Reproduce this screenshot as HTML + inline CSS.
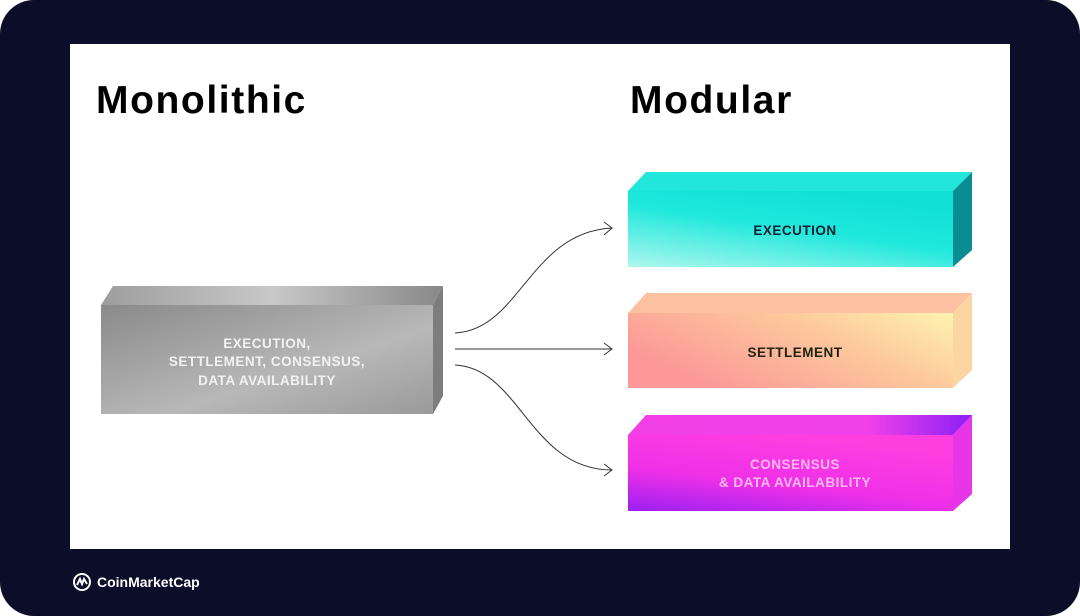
<!DOCTYPE html>
<html><head><style>
html,body{margin:0;padding:0;background:#fff}
.wrap{position:relative;width:1080px;height:616px;overflow:hidden;background:#fff;font-family:"Liberation Sans",sans-serif}
.bg{position:absolute;left:0;top:0;width:1080px;height:616px;background:#0b0d29;border-radius:34px}
.panel{position:absolute;left:70px;top:44px;width:940px;height:505px;background:#fff}
h1{position:absolute;margin:0;font-size:39px;font-weight:bold;color:#000;letter-spacing:1.6px}
.logo{position:absolute;left:72px;top:572px;color:#fff;font-weight:bold;font-size:14px;display:flex;align-items:center;gap:5px}
</style></head><body><div class="wrap">
<div class="bg"></div>
<div class="panel"></div>
<h1 style="left:96px;top:79px">Monolithic</h1>
<h1 style="left:630px;top:79px">Modular</h1>
<svg width="1080" height="616" style="position:absolute;left:0;top:0">
<defs>
<linearGradient id="gf" x1="0" y1="0" x2="1" y2="1"><stop offset="0" stop-color="#8a8a8a"/><stop offset="0.6" stop-color="#b8b8b8"/><stop offset="1" stop-color="#9a9a9a"/></linearGradient>
<linearGradient id="gt" x1="0" y1="0" x2="1" y2="0"><stop offset="0" stop-color="#9d9d9d"/><stop offset="0.5" stop-color="#c8c8c8"/><stop offset="1" stop-color="#888"/></linearGradient>
<linearGradient id="ef" x1="0" y1="1" x2="0.6" y2="0"><stop offset="0" stop-color="#aef7ee"/><stop offset="0.6" stop-color="#1fe8dc"/><stop offset="1" stop-color="#10e0d6"/></linearGradient>
<linearGradient id="sf" x1="0" y1="0.5" x2="1" y2="0"><stop offset="0" stop-color="#fc9898"/><stop offset="0.6" stop-color="#fdcb9c"/><stop offset="1" stop-color="#fff3b0"/></linearGradient>
<linearGradient id="cf" x1="0" y1="1" x2="0.5" y2="0"><stop offset="0" stop-color="#9b20f0"/><stop offset="0.45" stop-color="#ee30e8"/><stop offset="1" stop-color="#ff3ee0"/></linearGradient>
<linearGradient id="ct" x1="0" y1="0" x2="1" y2="0"><stop offset="0" stop-color="#f340e6"/><stop offset="0.7" stop-color="#f040ea"/><stop offset="1" stop-color="#8a20f5"/></linearGradient>
</defs>
<polygon points="101,305 113,286 443,286 433,305" fill="url(#gt)"/>
<polygon points="433,305 443,286 443,396 433,414" fill="#7d7d7d"/>
<rect x="101" y="305" width="332" height="109" fill="url(#gf)"/>
<g fill="#f2f2f2" font-weight="bold" font-size="13.5" text-anchor="middle" letter-spacing="0.5">
<text x="267" y="348">EXECUTION,</text><text x="267" y="366">SETTLEMENT, CONSENSUS,</text><text x="267" y="385">DATA AVAILABILITY</text></g>
<polygon points="628,191 646,172 972,172 953,191" fill="#22e6dc"/>
<polygon points="953,191 972,172 972,250 953,267" fill="#0a8d92"/>
<rect x="628" y="191" width="325" height="76" fill="url(#ef)"/>
<text x="795" y="235" text-anchor="middle" font-weight="bold" font-size="13.5" fill="#0d2030" letter-spacing="0.5">EXECUTION</text>
<polygon points="628,313 646,293 972,293 953,313" fill="#fdc0a0"/>
<polygon points="953,313 972,293 972,370 953,388" fill="#fbd6a0"/>
<rect x="628" y="313" width="325" height="75" fill="url(#sf)"/>
<text x="795" y="357" text-anchor="middle" font-weight="bold" font-size="13.5" fill="#221" letter-spacing="0.5">SETTLEMENT</text>
<polygon points="628,435 646,415 972,415 953,435" fill="url(#ct)"/>
<polygon points="953,435 972,415 972,494 953,511" fill="#e636e8"/>
<rect x="628" y="435" width="325" height="76" fill="url(#cf)"/>
<g fill="#ffb8f4" font-weight="bold" font-size="13.5" text-anchor="middle" letter-spacing="0.5"><text x="795" y="469">CONSENSUS</text><text x="795" y="487">&amp; DATA AVAILABILITY</text></g>
<g fill="none" stroke="#333" stroke-width="1">
<path d="M455,333 C520,330 530,232 612,228"/>
<path d="M455,349 L612,349"/>
<path d="M455,365 C520,368 530,470 612,470"/>
<path d="M604,222 L612,228 L604,235"/>
<path d="M604,343 L612,349 L604,355"/>
<path d="M604,464 L612,470 L604,476"/>
</g>
</svg>
<div class="logo"><svg width="20" height="20" viewBox="0 0 20 20"><circle cx="10" cy="10" r="8" fill="none" stroke="#fff" stroke-width="2"/><path d="M5,13 L8,7 L10,12 L12,7 L15,12" fill="none" stroke="#fff" stroke-width="2"/></svg>CoinMarketCap</div>
</div></body></html>
